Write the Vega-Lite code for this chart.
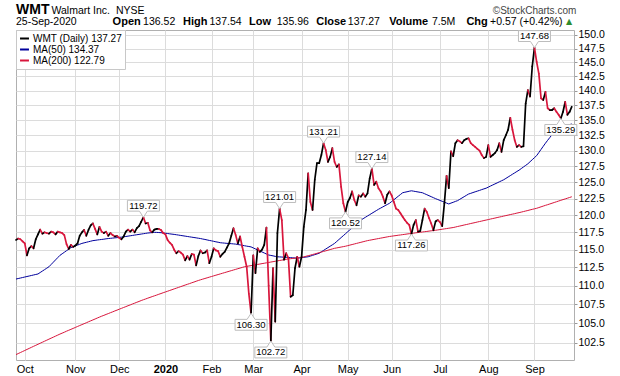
{
"$schema": "https://vega.github.io/schema/vega-lite/v6.json",
"width": 558, "height": 330,
"autosize": {"type": "none"},
"padding": {"left": 16, "top": 30, "right": 46, "bottom": 16},
"background": "white",
"config": {
  "font": "Liberation Sans",
  "view": {"stroke": "#b0b0b0", "strokeWidth": 1},
  "axis": {"gridColor": "#dcdcdc", "gridWidth": 1, "domain": false, "labelColor": "#000000"}
},
"datasets": {
"prices": [
{"date":"2019-09-25","close":116.4,"ma50":110.90,"ma200":101.00},
{"date":"2019-09-26","close":116.6,"ma50":110.97,"ma200":101.13},
{"date":"2019-09-27","close":116.5,"ma50":111.04,"ma200":101.26},
{"date":"2019-09-30","close":116.2,"ma50":111.11,"ma200":101.39},
{"date":"2019-10-01","close":115.9,"ma50":111.18,"ma200":101.52},
{"date":"2019-10-02","close":114.2,"ma50":111.25,"ma200":101.65},
{"date":"2019-10-03","close":115.2,"ma50":111.32,"ma200":101.78},
{"date":"2019-10-04","close":115.5,"ma50":111.39,"ma200":101.91},
{"date":"2019-10-07","close":115.2,"ma50":111.46,"ma200":102.04},
{"date":"2019-10-08","close":116.5,"ma50":111.53,"ma200":102.17},
{"date":"2019-10-09","close":117.2,"ma50":111.60,"ma200":102.30},
{"date":"2019-10-10","close":117.9,"ma50":111.80,"ma200":102.43},
{"date":"2019-10-11","close":117.3,"ma50":112.00,"ma200":102.56},
{"date":"2019-10-14","close":117.5,"ma50":112.20,"ma200":102.69},
{"date":"2019-10-15","close":117.4,"ma50":112.40,"ma200":102.82},
{"date":"2019-10-16","close":117.3,"ma50":112.60,"ma200":102.95},
{"date":"2019-10-17","close":117.6,"ma50":112.92,"ma200":103.08},
{"date":"2019-10-18","close":117.5,"ma50":113.24,"ma200":103.21},
{"date":"2019-10-21","close":117.2,"ma50":113.56,"ma200":103.34},
{"date":"2019-10-22","close":117.6,"ma50":113.88,"ma200":103.47},
{"date":"2019-10-23","close":117.5,"ma50":114.20,"ma200":103.60},
{"date":"2019-10-24","close":117.4,"ma50":114.42,"ma200":103.72},
{"date":"2019-10-25","close":117.1,"ma50":114.64,"ma200":103.84},
{"date":"2019-10-28","close":115.8,"ma50":114.86,"ma200":103.97},
{"date":"2019-10-29","close":115.1,"ma50":115.08,"ma200":104.09},
{"date":"2019-10-30","close":115.7,"ma50":115.30,"ma200":104.21},
{"date":"2019-10-31","close":115.4,"ma50":115.42,"ma200":104.33},
{"date":"2019-11-01","close":115.6,"ma50":115.54,"ma200":104.45},
{"date":"2019-11-04","close":115.9,"ma50":115.66,"ma200":104.58},
{"date":"2019-11-05","close":117.0,"ma50":115.78,"ma200":104.70},
{"date":"2019-11-06","close":117.5,"ma50":115.90,"ma200":104.82},
{"date":"2019-11-07","close":117.85,"ma50":115.98,"ma200":104.94},
{"date":"2019-11-08","close":117.0,"ma50":116.06,"ma200":105.06},
{"date":"2019-11-11","close":117.85,"ma50":116.14,"ma200":105.19},
{"date":"2019-11-12","close":118.5,"ma50":116.22,"ma200":105.31},
{"date":"2019-11-13","close":118.8,"ma50":116.30,"ma200":105.43},
{"date":"2019-11-14","close":118.0,"ma50":116.34,"ma200":105.55},
{"date":"2019-11-15","close":117.2,"ma50":116.39,"ma200":105.68},
{"date":"2019-11-18","close":118.3,"ma50":116.43,"ma200":105.80},
{"date":"2019-11-19","close":117.6,"ma50":116.47,"ma200":105.92},
{"date":"2019-11-20","close":117.4,"ma50":116.51,"ma200":106.03},
{"date":"2019-11-21","close":117.6,"ma50":116.56,"ma200":106.15},
{"date":"2019-11-22","close":117.0,"ma50":116.60,"ma200":106.26},
{"date":"2019-11-25","close":117.4,"ma50":116.63,"ma200":106.38},
{"date":"2019-11-26","close":117.1,"ma50":116.67,"ma200":106.49},
{"date":"2019-11-27","close":116.9,"ma50":116.70,"ma200":106.61},
{"date":"2019-11-29","close":117.0,"ma50":116.73,"ma200":106.72},
{"date":"2019-12-02","close":116.7,"ma50":116.77,"ma200":106.84},
{"date":"2019-12-03","close":116.5,"ma50":116.80,"ma200":106.95},
{"date":"2019-12-04","close":116.9,"ma50":116.85,"ma200":107.07},
{"date":"2019-12-05","close":117.6,"ma50":116.90,"ma200":107.18},
{"date":"2019-12-06","close":117.9,"ma50":116.95,"ma200":107.30},
{"date":"2019-12-09","close":117.6,"ma50":117.00,"ma200":107.41},
{"date":"2019-12-10","close":117.9,"ma50":117.05,"ma200":107.53},
{"date":"2019-12-11","close":117.5,"ma50":117.10,"ma200":107.64},
{"date":"2019-12-12","close":118.1,"ma50":117.15,"ma200":107.76},
{"date":"2019-12-13","close":118.4,"ma50":117.20,"ma200":107.87},
{"date":"2019-12-16","close":119.05,"ma50":117.25,"ma200":107.99},
{"date":"2019-12-17","close":119.72,"ma50":117.30,"ma200":108.10},
{"date":"2019-12-18","close":118.8,"ma50":117.35,"ma200":108.20},
{"date":"2019-12-19","close":118.9,"ma50":117.40,"ma200":108.31},
{"date":"2019-12-20","close":117.8,"ma50":117.43,"ma200":108.41},
{"date":"2019-12-23","close":117.5,"ma50":117.47,"ma200":108.52},
{"date":"2019-12-24","close":117.9,"ma50":117.50,"ma200":108.62},
{"date":"2019-12-26","close":118.0,"ma50":117.49,"ma200":108.72},
{"date":"2019-12-27","close":118.0,"ma50":117.47,"ma200":108.83},
{"date":"2019-12-30","close":117.85,"ma50":117.45,"ma200":108.93},
{"date":"2019-12-31","close":117.4,"ma50":117.41,"ma200":109.04},
{"date":"2020-01-02","close":117.2,"ma50":117.37,"ma200":109.14},
{"date":"2020-01-03","close":116.4,"ma50":117.33,"ma200":109.24},
{"date":"2020-01-06","close":116.0,"ma50":117.28,"ma200":109.35},
{"date":"2020-01-07","close":115.7,"ma50":117.24,"ma200":109.45},
{"date":"2020-01-08","close":115.0,"ma50":117.20,"ma200":109.56},
{"date":"2020-01-09","close":114.5,"ma50":117.15,"ma200":109.66},
{"date":"2020-01-10","close":114.8,"ma50":117.10,"ma200":109.76},
{"date":"2020-01-13","close":114.6,"ma50":117.05,"ma200":109.87},
{"date":"2020-01-14","close":114.3,"ma50":117.00,"ma200":109.97},
{"date":"2020-01-15","close":113.5,"ma50":116.95,"ma200":110.08},
{"date":"2020-01-16","close":114.1,"ma50":116.90,"ma200":110.18},
{"date":"2020-01-17","close":113.6,"ma50":116.85,"ma200":110.28},
{"date":"2020-01-21","close":114.4,"ma50":116.80,"ma200":110.39},
{"date":"2020-01-22","close":114.3,"ma50":116.75,"ma200":110.49},
{"date":"2020-01-23","close":112.8,"ma50":116.70,"ma200":110.60},
{"date":"2020-01-24","close":114.1,"ma50":116.65,"ma200":110.70},
{"date":"2020-01-27","close":114.9,"ma50":116.60,"ma200":110.80},
{"date":"2020-01-28","close":114.5,"ma50":116.53,"ma200":110.89},
{"date":"2020-01-29","close":114.6,"ma50":116.47,"ma200":110.98},
{"date":"2020-01-30","close":114.9,"ma50":116.40,"ma200":111.07},
{"date":"2020-01-31","close":113.1,"ma50":116.33,"ma200":111.16},
{"date":"2020-02-03","close":114.0,"ma50":116.27,"ma200":111.25},
{"date":"2020-02-04","close":115.2,"ma50":116.20,"ma200":111.34},
{"date":"2020-02-05","close":114.9,"ma50":116.13,"ma200":111.43},
{"date":"2020-02-06","close":114.8,"ma50":116.07,"ma200":111.52},
{"date":"2020-02-07","close":114.0,"ma50":116.00,"ma200":111.61},
{"date":"2020-02-10","close":114.4,"ma50":115.97,"ma200":111.70},
{"date":"2020-02-11","close":114.7,"ma50":115.94,"ma200":111.79},
{"date":"2020-02-12","close":115.3,"ma50":115.91,"ma200":111.88},
{"date":"2020-02-13","close":115.9,"ma50":115.89,"ma200":111.97},
{"date":"2020-02-14","close":117.0,"ma50":115.86,"ma200":112.06},
{"date":"2020-02-18","close":118.1,"ma50":115.83,"ma200":112.15},
{"date":"2020-02-19","close":117.1,"ma50":115.80,"ma200":112.24},
{"date":"2020-02-20","close":115.9,"ma50":115.74,"ma200":112.33},
{"date":"2020-02-21","close":116.9,"ma50":115.69,"ma200":112.42},
{"date":"2020-02-24","close":115.4,"ma50":115.63,"ma200":112.51},
{"date":"2020-02-25","close":114.0,"ma50":115.57,"ma200":112.60},
{"date":"2020-02-26","close":112.6,"ma50":115.51,"ma200":112.65},
{"date":"2020-02-27","close":108.9,"ma50":115.46,"ma200":112.71},
{"date":"2020-02-28","close":106.3,"ma50":115.40,"ma200":112.76},
{"date":"2020-03-02","close":114.2,"ma50":115.26,"ma200":112.82},
{"date":"2020-03-03","close":111.7,"ma50":115.11,"ma200":112.87},
{"date":"2020-03-04","close":115.2,"ma50":114.97,"ma200":112.93},
{"date":"2020-03-05","close":114.7,"ma50":114.82,"ma200":112.98},
{"date":"2020-03-06","close":115.0,"ma50":114.68,"ma200":113.04},
{"date":"2020-03-09","close":115.7,"ma50":114.54,"ma200":113.09},
{"date":"2020-03-10","close":118.2,"ma50":114.39,"ma200":113.15},
{"date":"2020-03-11","close":110.0,"ma50":114.25,"ma200":113.20},
{"date":"2020-03-12","close":102.72,"ma50":114.19,"ma200":113.26},
{"date":"2020-03-13","close":112.4,"ma50":114.13,"ma200":113.31},
{"date":"2020-03-16","close":105.2,"ma50":114.06,"ma200":113.37},
{"date":"2020-03-17","close":117.4,"ma50":114.00,"ma200":113.42},
{"date":"2020-03-18","close":121.01,"ma50":113.98,"ma200":113.48},
{"date":"2020-03-19","close":119.3,"ma50":113.96,"ma200":113.53},
{"date":"2020-03-20","close":113.6,"ma50":113.94,"ma200":113.59},
{"date":"2020-03-23","close":114.5,"ma50":113.92,"ma200":113.64},
{"date":"2020-03-24","close":113.8,"ma50":113.90,"ma200":113.70},
{"date":"2020-03-25","close":108.5,"ma50":113.88,"ma200":113.73},
{"date":"2020-03-26","close":108.7,"ma50":113.85,"ma200":113.77},
{"date":"2020-03-27","close":112.4,"ma50":113.83,"ma200":113.80},
{"date":"2020-03-30","close":114.0,"ma50":113.80,"ma200":113.83},
{"date":"2020-03-31","close":112.6,"ma50":113.84,"ma200":113.87},
{"date":"2020-04-01","close":114.0,"ma50":113.88,"ma200":113.90},
{"date":"2020-04-02","close":118.3,"ma50":113.92,"ma200":113.98},
{"date":"2020-04-03","close":120.8,"ma50":113.96,"ma200":114.07},
{"date":"2020-04-06","close":126.4,"ma50":114.00,"ma200":114.15},
{"date":"2020-04-07","close":122.0,"ma50":114.10,"ma200":114.23},
{"date":"2020-04-08","close":120.8,"ma50":114.20,"ma200":114.32},
{"date":"2020-04-09","close":125.4,"ma50":114.30,"ma200":114.40},
{"date":"2020-04-13","close":128.0,"ma50":114.40,"ma200":114.49},
{"date":"2020-04-14","close":128.0,"ma50":114.50,"ma200":114.58},
{"date":"2020-04-15","close":129.3,"ma50":114.70,"ma200":114.67},
{"date":"2020-04-16","close":131.21,"ma50":114.90,"ma200":114.76},
{"date":"2020-04-17","close":130.1,"ma50":115.10,"ma200":114.84},
{"date":"2020-04-20","close":128.2,"ma50":115.30,"ma200":114.93},
{"date":"2020-04-21","close":129.0,"ma50":115.50,"ma200":115.02},
{"date":"2020-04-22","close":130.4,"ma50":115.70,"ma200":115.11},
{"date":"2020-04-23","close":128.2,"ma50":115.90,"ma200":115.20},
{"date":"2020-04-24","close":127.4,"ma50":116.18,"ma200":115.26},
{"date":"2020-04-27","close":127.8,"ma50":116.46,"ma200":115.32},
{"date":"2020-04-28","close":124.3,"ma50":116.74,"ma200":115.38},
{"date":"2020-04-29","close":121.8,"ma50":117.02,"ma200":115.44},
{"date":"2020-04-30","close":120.52,"ma50":117.30,"ma200":115.50},
{"date":"2020-05-01","close":122.0,"ma50":117.59,"ma200":115.58},
{"date":"2020-05-04","close":122.6,"ma50":117.87,"ma200":115.66},
{"date":"2020-05-05","close":123.6,"ma50":118.16,"ma200":115.74},
{"date":"2020-05-06","close":122.3,"ma50":118.44,"ma200":115.82},
{"date":"2020-05-07","close":121.5,"ma50":118.73,"ma200":115.90},
{"date":"2020-05-08","close":123.0,"ma50":119.01,"ma200":115.98},
{"date":"2020-05-11","close":122.8,"ma50":119.30,"ma200":116.06},
{"date":"2020-05-12","close":123.3,"ma50":119.50,"ma200":116.14},
{"date":"2020-05-13","close":122.8,"ma50":119.70,"ma200":116.22},
{"date":"2020-05-14","close":123.3,"ma50":119.90,"ma200":116.30},
{"date":"2020-05-15","close":125.6,"ma50":120.10,"ma200":116.36},
{"date":"2020-05-18","close":127.14,"ma50":120.30,"ma200":116.42},
{"date":"2020-05-19","close":124.6,"ma50":120.50,"ma200":116.48},
{"date":"2020-05-20","close":125.1,"ma50":120.70,"ma200":116.54},
{"date":"2020-05-21","close":124.1,"ma50":120.90,"ma200":116.60},
{"date":"2020-05-22","close":123.6,"ma50":121.08,"ma200":116.66},
{"date":"2020-05-26","close":122.8,"ma50":121.26,"ma200":116.72},
{"date":"2020-05-27","close":121.8,"ma50":121.44,"ma200":116.78},
{"date":"2020-05-28","close":123.1,"ma50":121.62,"ma200":116.84},
{"date":"2020-05-29","close":123.6,"ma50":121.80,"ma200":116.90},
{"date":"2020-06-01","close":123.0,"ma50":122.07,"ma200":116.94},
{"date":"2020-06-02","close":122.0,"ma50":122.33,"ma200":116.99},
{"date":"2020-06-03","close":121.0,"ma50":122.60,"ma200":117.03},
{"date":"2020-06-04","close":120.8,"ma50":122.87,"ma200":117.08},
{"date":"2020-06-05","close":120.3,"ma50":123.13,"ma200":117.12},
{"date":"2020-06-08","close":119.8,"ma50":123.40,"ma200":117.17},
{"date":"2020-06-09","close":119.3,"ma50":123.48,"ma200":117.21},
{"date":"2020-06-10","close":118.9,"ma50":123.55,"ma200":117.26},
{"date":"2020-06-11","close":118.6,"ma50":123.63,"ma200":117.30},
{"date":"2020-06-12","close":117.26,"ma50":123.70,"ma200":117.34},
{"date":"2020-06-15","close":118.6,"ma50":123.64,"ma200":117.38},
{"date":"2020-06-16","close":119.3,"ma50":123.58,"ma200":117.43},
{"date":"2020-06-17","close":117.6,"ma50":123.52,"ma200":117.47},
{"date":"2020-06-18","close":117.7,"ma50":123.46,"ma200":117.51},
{"date":"2020-06-19","close":119.3,"ma50":123.40,"ma200":117.55},
{"date":"2020-06-22","close":121.0,"ma50":123.25,"ma200":117.59},
{"date":"2020-06-23","close":120.5,"ma50":123.10,"ma200":117.63},
{"date":"2020-06-24","close":119.6,"ma50":122.95,"ma200":117.68},
{"date":"2020-06-25","close":118.8,"ma50":122.80,"ma200":117.72},
{"date":"2020-06-26","close":117.8,"ma50":122.65,"ma200":117.76},
{"date":"2020-06-29","close":119.1,"ma50":122.50,"ma200":117.80},
{"date":"2020-06-30","close":119.3,"ma50":122.37,"ma200":117.85},
{"date":"2020-07-01","close":119.0,"ma50":122.23,"ma200":117.90},
{"date":"2020-07-02","close":118.4,"ma50":122.10,"ma200":117.95},
{"date":"2020-07-06","close":121.8,"ma50":121.97,"ma200":118.00},
{"date":"2020-07-07","close":126.0,"ma50":121.83,"ma200":118.05},
{"date":"2020-07-08","close":124.1,"ma50":121.70,"ma200":118.10},
{"date":"2020-07-09","close":129.9,"ma50":121.83,"ma200":118.15},
{"date":"2020-07-10","close":129.1,"ma50":121.95,"ma200":118.20},
{"date":"2020-07-13","close":131.2,"ma50":122.08,"ma200":118.27},
{"date":"2020-07-14","close":131.7,"ma50":122.20,"ma200":118.35},
{"date":"2020-07-15","close":131.5,"ma50":122.40,"ma200":118.42},
{"date":"2020-07-16","close":131.2,"ma50":122.60,"ma200":118.49},
{"date":"2020-07-17","close":131.7,"ma50":122.80,"ma200":118.57},
{"date":"2020-07-20","close":131.9,"ma50":123.00,"ma200":118.64},
{"date":"2020-07-21","close":132.0,"ma50":123.20,"ma200":118.71},
{"date":"2020-07-22","close":131.2,"ma50":123.31,"ma200":118.79},
{"date":"2020-07-23","close":130.9,"ma50":123.43,"ma200":118.86},
{"date":"2020-07-24","close":130.6,"ma50":123.54,"ma200":118.93},
{"date":"2020-07-27","close":130.3,"ma50":123.65,"ma200":119.01},
{"date":"2020-07-28","close":130.0,"ma50":123.76,"ma200":119.08},
{"date":"2020-07-29","close":129.3,"ma50":123.88,"ma200":119.15},
{"date":"2020-07-30","close":128.8,"ma50":123.99,"ma200":119.23},
{"date":"2020-07-31","close":129.0,"ma50":124.10,"ma200":119.30},
{"date":"2020-08-03","close":130.9,"ma50":124.26,"ma200":119.37},
{"date":"2020-08-04","close":129.0,"ma50":124.43,"ma200":119.45},
{"date":"2020-08-05","close":129.3,"ma50":124.59,"ma200":119.52},
{"date":"2020-08-06","close":129.6,"ma50":124.75,"ma200":119.59},
{"date":"2020-08-07","close":130.1,"ma50":124.91,"ma200":119.67},
{"date":"2020-08-10","close":131.2,"ma50":125.08,"ma200":119.74},
{"date":"2020-08-11","close":129.8,"ma50":125.24,"ma200":119.81},
{"date":"2020-08-12","close":131.7,"ma50":125.40,"ma200":119.89},
{"date":"2020-08-13","close":132.5,"ma50":125.61,"ma200":119.96},
{"date":"2020-08-14","close":133.4,"ma50":125.83,"ma200":120.03},
{"date":"2020-08-17","close":135.4,"ma50":126.04,"ma200":120.11},
{"date":"2020-08-18","close":133.4,"ma50":126.26,"ma200":120.18},
{"date":"2020-08-19","close":131.7,"ma50":126.47,"ma200":120.25},
{"date":"2020-08-20","close":130.6,"ma50":126.69,"ma200":120.33},
{"date":"2020-08-21","close":130.9,"ma50":126.90,"ma200":120.40},
{"date":"2020-08-24","close":130.6,"ma50":127.15,"ma200":120.48},
{"date":"2020-08-25","close":130.7,"ma50":127.40,"ma200":120.56},
{"date":"2020-08-26","close":137.8,"ma50":127.65,"ma200":120.64},
{"date":"2020-08-27","close":140.1,"ma50":127.90,"ma200":120.72},
{"date":"2020-08-28","close":139.0,"ma50":128.23,"ma200":120.81},
{"date":"2020-08-31","close":144.3,"ma50":128.55,"ma200":120.89},
{"date":"2020-09-01","close":147.68,"ma50":128.88,"ma200":120.97},
{"date":"2020-09-02","close":145.1,"ma50":129.20,"ma200":121.05},
{"date":"2020-09-03","close":143.0,"ma50":129.70,"ma200":121.16},
{"date":"2020-09-04","close":138.7,"ma50":130.20,"ma200":121.27},
{"date":"2020-09-08","close":138.4,"ma50":130.70,"ma200":121.38},
{"date":"2020-09-09","close":139.8,"ma50":131.20,"ma200":121.49},
{"date":"2020-09-10","close":137.0,"ma50":131.67,"ma200":121.59},
{"date":"2020-09-11","close":136.7,"ma50":132.13,"ma200":121.70},
{"date":"2020-09-14","close":136.7,"ma50":132.60,"ma200":121.81},
{"date":"2020-09-15","close":137.0,"ma50":132.90,"ma200":121.92},
{"date":"2020-09-16","close":136.4,"ma50":133.20,"ma200":122.03},
{"date":"2020-09-17","close":135.9,"ma50":133.50,"ma200":122.14},
{"date":"2020-09-18","close":135.29,"ma50":133.67,"ma200":122.25},
{"date":"2020-09-21","close":136.4,"ma50":133.83,"ma200":122.36},
{"date":"2020-09-22","close":138.1,"ma50":134.00,"ma200":122.46},
{"date":"2020-09-23","close":135.9,"ma50":134.12,"ma200":122.57},
{"date":"2020-09-24","close":136.4,"ma50":134.25,"ma200":122.68},
{"date":"2020-09-25","close":137.27,"ma50":134.37,"ma200":122.79}
],
"notes": [
{"date":"2019-12-17","value":119.72,"kind":"high"},
{"date":"2020-02-28","value":106.30,"kind":"low"},
{"date":"2020-03-12","value":102.72,"kind":"low"},
{"date":"2020-03-18","value":121.01,"kind":"high"},
{"date":"2020-04-16","value":131.21,"kind":"high"},
{"date":"2020-04-30","value":120.52,"kind":"low"},
{"date":"2020-05-18","value":127.14,"kind":"high"},
{"date":"2020-06-12","value":117.26,"kind":"low"},
{"date":"2020-09-01","value":147.68,"kind":"high"},
{"date":"2020-09-18","value":135.29,"kind":"low"}
]
},
"layer": [
{
  "data": {"name": "prices"},
  "transform": [{"fold": ["ma50", "ma200"], "as": ["series", "ma"]}],
  "mark": {"type": "line", "strokeWidth": 1},
  "encoding": {
    "x": {"field": "date", "type": "ordinal", "title": null,
      "scale": {"type": "point", "paddingOuter": 1.25, "align": 0},
      "axis": {"values": ["2019-10-01","2019-11-01","2019-12-02","2020-01-02","2020-02-03","2020-03-02","2020-04-01","2020-05-01","2020-06-01","2020-07-01","2020-08-03","2020-09-01"],
        "labelExpr": "datum.value == '2020-01-02' ? '2020' : utcFormat(toDate(datum.value), '%b')",
        "labelFontWeight": {"condition": {"test": "datum.value == '2020-01-02'", "value": "bold"}, "value": "normal"},
        "grid": true, "ticks": false, "labelPadding": 3, "labelFontSize": 11, "labelAngle": 0, "title": null}},
    "y": {"field": "ma", "type": "quantitative", "title": null,
      "scale": {"type": "log", "domain": [100.33, 150.93], "nice": false, "zero": false},
      "axis": {"orient": "right", "values": [102.5,105,107.5,110,112.5,115,117.5,120,122.5,125,127.5,130,132.5,135,137.5,140,142.5,145,147.5,150],
        "format": ".1f", "grid": true, "tickSize": 3, "tickColor": "#999999", "labelPadding": 1, "labelFontSize": 10.5, "title": null}},
    "color": {"field": "series", "type": "nominal",
      "scale": {"domain": ["wmt", "ma50", "ma200"], "range": ["#000000", "#00009c", "#d8163c"]},
      "legend": {"orient": "top-left", "offset": 0, "title": null, "padding": 3,
        "fillColor": "white", "strokeColor": "#c8c8c8",
        "symbolType": "stroke", "symbolSize": 80, "symbolStrokeWidth": 2,
        "labelFont": "Liberation Sans", "labelFontSize": 10, "rowPadding": 0, "labelOffset": 3,
        "labelExpr": "datum.value == 'wmt' ? 'WMT (Daily) 137.27' : datum.value == 'ma50' ? 'MA(50) 134.37' : 'MA(200) 122.79'",
        "encoding": {
          "labels": {"update": {"fill": {"scale": "color", "field": "value"},
            "font": {"signal": "datum.value == 'wmt' ? 'DejaVu Sans' : 'Liberation Sans'"},
            "fontSize": {"signal": "datum.value == 'wmt' ? 10.5 : 10"}}},
          "symbols": {"update": {"strokeWidth": {"signal": "datum.value == 'wmt' ? 3 : 2"}}}
        }}}
  }
},
{
  "data": {"name": "prices"},
  "transform": [
    {"window": [{"op": "lag", "field": "close", "as": "prev"}, {"op": "lag", "field": "date", "as": "pdate"}], "sort": [{"field": "date", "order": "ascending"}]},
    {"filter": "datum.pdate != null"}
  ],
  "mark": {"type": "rule", "strokeWidth": 1.7, "strokeCap": "round"},
  "encoding": {
    "x": {"field": "pdate", "type": "ordinal", "title": null},
    "x2": {"field": "date"},
    "y": {"field": "prev", "type": "quantitative", "title": null},
    "y2": {"field": "close"},
    "stroke": {"condition": {"test": "datum.close < datum.prev", "value": "#d8163c"}, "value": "#000000"}
  }
},
{
  "data": {"name": "notes"},
  "transform": [{"filter": "datum.kind == 'high'"}],
  "mark": {"type": "point", "shape": "M-1,-1.06H1V-0.38H0.25L0,0L-0.25,-0.38H-1Z", "size": 1024, "filled": true, "fill": "white", "stroke": "#bdbdbd", "strokeWidth": 1, "opacity": 1},
  "encoding": {"x": {"field": "date", "type": "ordinal", "title": null}, "y": {"field": "value", "type": "quantitative", "title": null}}
},
{
  "data": {"name": "notes"},
  "transform": [{"filter": "datum.kind == 'low'"}],
  "mark": {"type": "point", "shape": "M-1,1.06H1V0.38H0.25L0,0L-0.25,0.38H-1Z", "size": 1024, "filled": true, "fill": "white", "stroke": "#bdbdbd", "strokeWidth": 1, "opacity": 1},
  "encoding": {"x": {"field": "date", "type": "ordinal", "title": null}, "y": {"field": "value", "type": "quantitative", "title": null}}
},
{
  "data": {"name": "notes"},
  "transform": [{"filter": "datum.kind == 'high'"}],
  "mark": {"type": "text", "dy": -11.5, "fontSize": 9.5, "baseline": "middle", "color": "#000000"},
  "encoding": {"x": {"field": "date", "type": "ordinal", "title": null}, "y": {"field": "value", "type": "quantitative", "title": null}, "text": {"field": "value", "type": "quantitative", "format": ".2f"}}
},
{
  "data": {"name": "notes"},
  "transform": [{"filter": "datum.kind == 'low'"}],
  "mark": {"type": "text", "dy": 11.5, "fontSize": 9.5, "baseline": "middle", "color": "#000000"},
  "encoding": {"x": {"field": "date", "type": "ordinal", "title": null}, "y": {"field": "value", "type": "quantitative", "title": null}, "text": {"field": "value", "type": "quantitative", "format": ".2f"}}
},
{"data": {"values": [{}]}, "mark": {"type": "text", "text": "WMT", "align": "left", "baseline": "alphabetic", "dx": 0, "dy": -16.5, "fontSize": 14, "fontWeight": "bold", "color": "#000000"},
 "encoding": {"x": {"datum": "2019-09-25", "type": "ordinal"}, "y": {"datum": 150.93, "type": "quantitative"}}},
{"data": {"values": [{}]}, "mark": {"type": "text", "text": "Walmart Inc.", "align": "left", "baseline": "alphabetic", "dx": 35.5, "dy": -16.5, "fontSize": 10.5, "color": "#000000"},
 "encoding": {"x": {"datum": "2019-09-25", "type": "ordinal"}, "y": {"datum": 150.93, "type": "quantitative"}}},
{"data": {"values": [{}]}, "mark": {"type": "text", "text": "NYSE", "align": "left", "baseline": "alphabetic", "dx": 100, "dy": -16.5, "fontSize": 10.5, "color": "#000000"},
 "encoding": {"x": {"datum": "2019-09-25", "type": "ordinal"}, "y": {"datum": 150.93, "type": "quantitative"}}},
{"data": {"values": [{}]}, "mark": {"type": "text", "text": "©StockCharts.com", "align": "right", "baseline": "alphabetic", "dx": 4.5, "dy": -16.5, "fontSize": 10, "color": "#444444"},
 "encoding": {"x": {"datum": "2020-09-25", "type": "ordinal"}, "y": {"datum": 150.93, "type": "quantitative"}}},
{"data": {"values": [{}]}, "mark": {"type": "text", "text": "25-Sep-2020", "align": "left", "baseline": "alphabetic", "dx": 0, "dy": -5, "fontSize": 10.5, "color": "#000000"},
 "encoding": {"x": {"datum": "2019-09-25", "type": "ordinal"}, "y": {"datum": 150.93, "type": "quantitative"}}},
{"data": {"values": [{}]}, "mark": {"type": "text", "text": "Open", "align": "left", "baseline": "alphabetic", "dx": 96.6, "dy": -5, "fontSize": 11, "fontWeight": "bold", "color": "#000000"},
 "encoding": {"x": {"datum": "2019-09-25", "type": "ordinal"}, "y": {"datum": 150.93, "type": "quantitative"}}},
{"data": {"values": [{}]}, "mark": {"type": "text", "text": "136.52", "align": "left", "baseline": "alphabetic", "dx": 127.1, "dy": -5, "fontSize": 10.5, "color": "#000000"},
 "encoding": {"x": {"datum": "2019-09-25", "type": "ordinal"}, "y": {"datum": 150.93, "type": "quantitative"}}},
{"data": {"values": [{}]}, "mark": {"type": "text", "text": "High", "align": "left", "baseline": "alphabetic", "dx": 167, "dy": -5, "fontSize": 11, "fontWeight": "bold", "color": "#000000"},
 "encoding": {"x": {"datum": "2019-09-25", "type": "ordinal"}, "y": {"datum": 150.93, "type": "quantitative"}}},
{"data": {"values": [{}]}, "mark": {"type": "text", "text": "137.54", "align": "left", "baseline": "alphabetic", "dx": 193.5, "dy": -5, "fontSize": 10.5, "color": "#000000"},
 "encoding": {"x": {"datum": "2019-09-25", "type": "ordinal"}, "y": {"datum": 150.93, "type": "quantitative"}}},
{"data": {"values": [{}]}, "mark": {"type": "text", "text": "Low", "align": "left", "baseline": "alphabetic", "dx": 233, "dy": -5, "fontSize": 11, "fontWeight": "bold", "color": "#000000"},
 "encoding": {"x": {"datum": "2019-09-25", "type": "ordinal"}, "y": {"datum": 150.93, "type": "quantitative"}}},
{"data": {"values": [{}]}, "mark": {"type": "text", "text": "135.96", "align": "left", "baseline": "alphabetic", "dx": 260.7, "dy": -5, "fontSize": 10.5, "color": "#000000"},
 "encoding": {"x": {"datum": "2019-09-25", "type": "ordinal"}, "y": {"datum": 150.93, "type": "quantitative"}}},
{"data": {"values": [{}]}, "mark": {"type": "text", "text": "Close", "align": "left", "baseline": "alphabetic", "dx": 300.2, "dy": -5, "fontSize": 11, "fontWeight": "bold", "color": "#000000"},
 "encoding": {"x": {"datum": "2019-09-25", "type": "ordinal"}, "y": {"datum": 150.93, "type": "quantitative"}}},
{"data": {"values": [{}]}, "mark": {"type": "text", "text": "137.27", "align": "left", "baseline": "alphabetic", "dx": 331.8, "dy": -5, "fontSize": 10.5, "color": "#000000"},
 "encoding": {"x": {"datum": "2019-09-25", "type": "ordinal"}, "y": {"datum": 150.93, "type": "quantitative"}}},
{"data": {"values": [{}]}, "mark": {"type": "text", "text": "Volume", "align": "left", "baseline": "alphabetic", "dx": 373.3, "dy": -5, "fontSize": 11, "fontWeight": "bold", "color": "#000000"},
 "encoding": {"x": {"datum": "2019-09-25", "type": "ordinal"}, "y": {"datum": 150.93, "type": "quantitative"}}},
{"data": {"values": [{}]}, "mark": {"type": "text", "text": "7.5M", "align": "left", "baseline": "alphabetic", "dx": 416, "dy": -5, "fontSize": 10.5, "color": "#000000"},
 "encoding": {"x": {"datum": "2019-09-25", "type": "ordinal"}, "y": {"datum": 150.93, "type": "quantitative"}}},
{"data": {"values": [{}]}, "mark": {"type": "text", "text": "Chg", "align": "left", "baseline": "alphabetic", "dx": 450.4, "dy": -5, "fontSize": 11, "fontWeight": "bold", "color": "#000000"},
 "encoding": {"x": {"datum": "2019-09-25", "type": "ordinal"}, "y": {"datum": 150.93, "type": "quantitative"}}},
{"data": {"values": [{}]}, "mark": {"type": "text", "text": "+0.57 (+0.42%)", "align": "left", "baseline": "alphabetic", "dx": 474.1, "dy": -5, "fontSize": 10.5, "color": "#000000"},
 "encoding": {"x": {"datum": "2019-09-25", "type": "ordinal"}, "y": {"datum": 150.93, "type": "quantitative"}}},
{"data": {"values": [{}]}, "mark": {"type": "text", "text": "▲", "align": "center", "baseline": "alphabetic", "dx": 553, "dy": -6, "fontSize": 8, "font": "DejaVu Sans", "color": "#2e8b2e"},
 "encoding": {"x": {"datum": "2019-09-25", "type": "ordinal"}, "y": {"datum": 150.93, "type": "quantitative"}}}
]
}
